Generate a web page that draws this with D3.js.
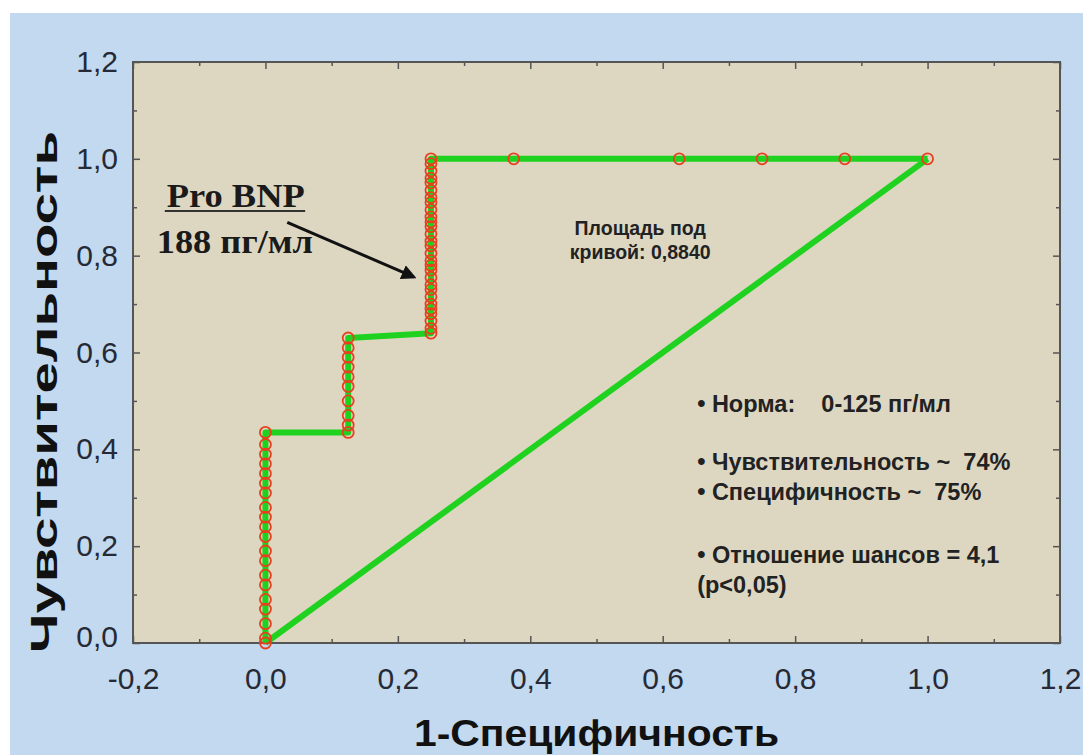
<!DOCTYPE html>
<html lang="ru">
<head>
<meta charset="UTF-8">
<title>ROC Pro BNP</title>
<style>
  body { margin: 0; background: #fff; }
  svg { display: block; font-family: "Liberation Sans", Arial, sans-serif; }
</style>
</head>
<body>
<svg width="1083" height="755"></svg>

<script src="https://cdn.jsdelivr.net/npm/d3@7"></script>
<script>

    // ROC-кривая Pro BNP: чувствительность по ступеням 1-специфичности
    var stepFpr = [0, 0.125, 0.25];
    var tprAtZero = [0, 0.01, 0.04, 0.07, 0.09, 0.12, 0.14, 0.17, 0.19, 0.22, 0.24, 0.26,
                     0.28, 0.31, 0.33, 0.35, 0.37, 0.39, 0.41, 0.435];
    var tprAtEighth = [0.435, 0.45, 0.47, 0.50, 0.53, 0.55, 0.57, 0.59, 0.61, 0.63];
    var tprAtQuarter = [0.64, 0.65, 0.665, 0.68, 0.69, 0.70, 0.715, 0.73, 0.74, 0.755, 0.77,
                        0.78, 0.79, 0.805, 0.82, 0.83, 0.845, 0.86, 0.87, 0.88, 0.895, 0.91,
                        0.92, 0.935, 0.95, 0.96, 0.975, 0.99, 1.0];
    var topFpr = [0.375, 0.625, 0.75, 0.875, 1.0];
    var chanceLine = [[0, 0], [1, 1]];

    var xTicks = [-0.2, 0, 0.2, 0.4, 0.6, 0.8, 1.0, 1.2];
    var xMinor = [-0.1, 0.1, 0.3, 0.5, 0.7, 0.9, 1.1];
    var yTicks = [0, 0.2, 0.4, 0.6, 0.8, 1.0, 1.2];
    var yMinor = [0.1, 0.3, 0.5, 0.7, 0.9, 1.1];

    var aucLines = ["Площадь под", "кривой: 0,8840"];
    var infoLines = [
        {text: "• Норма:    0-125 пг/мл", y: 0.477},
        {text: "• Чувствительность ~  74%", y: 0.357},
        {text: "• Специфичность ~  75%", y: 0.295},
        {text: "• Отношение шансов = 4,1", y: 0.165},
        {text: "(p<0,05)", y: 0.103}
    ];

    var svg = d3.select("svg");
    var margin = {top: 62, right: 23, bottom: 112, left: 133};
    var width = +svg.attr("width") - margin.left - margin.right;
    var height = +svg.attr("height") - margin.top - margin.bottom;

    // фон слайда
    svg.append("rect").attr("x", 10).attr("y", 13)
        .attr("width", 1073).attr("height", 742).attr("fill", "#c2d9ef");

    var g = svg.append("g").attr("transform", "translate(" + margin.left + "," + margin.top + ")");

    var x = d3.scaleLinear().domain([-0.2, 1.2]).range([0, width]);
    var y = d3.scaleLinear().domain([0, 1.2]).range([height, 0]);

    g.append("rect").attr("width", width).attr("height", height).attr("fill", "#ddd7c2");

    var fmt = function(d) { return d.toFixed(1).replace(".", ","); };

    // тики внутрь рамки
    function ticks(axis, tr) {
        var a = g.append("g").attr("transform", tr).call(axis);
        a.select(".domain").remove();
        a.selectAll("line").attr("stroke", "#555").attr("stroke-width", 1.5);
        return a;
    }
    var xb = ticks(d3.axisBottom(x).tickValues(xTicks).tickSize(-7).tickPadding(25).tickFormat(fmt), "translate(0," + height + ")");
    ticks(d3.axisBottom(x).tickValues(xMinor).tickSize(-4).tickFormat(""), "translate(0," + height + ")");
    ticks(d3.axisTop(x).tickValues(xTicks).tickSize(-7).tickFormat(""), "translate(0,0)");
    ticks(d3.axisTop(x).tickValues(xMinor).tickSize(-4).tickFormat(""), "translate(0,0)");
    var yl = ticks(d3.axisLeft(y).tickValues(yTicks).tickSize(-7).tickPadding(15).tickFormat(fmt), "translate(0,0)");
    ticks(d3.axisLeft(y).tickValues(yMinor).tickSize(-4).tickFormat(""), "translate(0,0)");
    ticks(d3.axisRight(y).tickValues(yTicks).tickSize(-7).tickFormat(""), "translate(" + width + ",0)");
    ticks(d3.axisRight(y).tickValues(yMinor).tickSize(-4).tickFormat(""), "translate(" + width + ",0)");

    [xb, yl].forEach(function(a) {
        a.selectAll("text").attr("font-size", 30).attr("fill", "#262a36")
            .attr("font-family", "'Liberation Sans', Arial, sans-serif");
    });
    yl.selectAll("text").filter(function(d) { return d === 0; }).attr("dy", "0.1em");

    g.append("rect").attr("width", width).attr("height", height)
        .attr("fill", "none").attr("stroke", "#555").attr("stroke-width", 2);

    // точки кривой
    var rocPoints = []
        .concat(tprAtZero.map(function(v) { return {x: stepFpr[0], y: v}; }))
        .concat(tprAtEighth.map(function(v) { return {x: stepFpr[1], y: v}; }))
        .concat(tprAtQuarter.map(function(v) { return {x: stepFpr[2], y: v}; }))
        .concat(topFpr.map(function(v) { return {x: v, y: 1}; }));

    var line = d3.line().x(function(d) { return x(d.x); }).y(function(d) { return y(d.y); });

    g.append("path").datum(chanceLine.map(function(d) { return {x: d[0], y: d[1]}; }))
        .attr("d", line).attr("fill", "none").attr("stroke", "#1fd21f").attr("stroke-width", 6);
    g.append("path").datum(rocPoints)
        .attr("d", line).attr("fill", "none").attr("stroke", "#1fd21f").attr("stroke-width", 6)
        .attr("stroke-linejoin", "round");

    g.selectAll(".pt").data(rocPoints).enter().append("circle")
        .attr("class", "pt")
        .attr("cx", function(d) { return x(d.x); })
        .attr("cy", function(d) { return y(d.y); })
        .attr("r", 5.5)
        .attr("fill", "none").attr("stroke", "#e8401f").attr("stroke-width", 1.8);

    // аннотации
    svg.append("defs").append("marker").attr("id", "arr")
        .attr("viewBox", "0 0 10 10").attr("refX", 8).attr("refY", 5)
        .attr("markerWidth", 5).attr("markerHeight", 5).attr("orient", "auto")
        .append("path").attr("d", "M0,0L10,5L0,10z").attr("fill", "#111");

    g.append("line")
        .attr("x1", x(0.033)).attr("y1", y(0.869))
        .attr("x2", x(0.224)).attr("y2", y(0.756))
        .attr("stroke", "#111").attr("stroke-width", 3).attr("marker-end", "url(#arr)");

    var serif = "'Liberation Serif', 'DejaVu Serif', serif";
    g.append("text").attr("x", x(-0.149)).attr("y", y(0.90))
        .attr("font-family", serif).attr("font-weight", "bold").attr("font-size", 33)
        .attr("fill", "#1a1a1a").attr("textLength", 138).attr("lengthAdjust", "spacingAndGlyphs")
        .text("Pro BNP");
    g.append("line")
        .attr("x1", x(-0.152)).attr("x2", x(0.060))
        .attr("y1", y(0.892)).attr("y2", y(0.892))
        .attr("stroke", "#333").attr("stroke-width", 2);
    g.append("text").attr("x", x(-0.164)).attr("y", y(0.806))
        .attr("font-family", serif).attr("font-weight", "bold").attr("font-size", 33)
        .attr("fill", "#1a1a1a").attr("textLength", 156).attr("lengthAdjust", "spacingAndGlyphs")
        .text("188 пг/мл");

    g.selectAll(".auc").data(aucLines).enter().append("text")
        .attr("x", x(0.566)).attr("y", function(d, i) { return y(0.843) + i * 24; })
        .attr("text-anchor", "middle").attr("font-weight", "bold").attr("font-size", 19.5)
        .attr("fill", "#222").text(function(d) { return d; });

    g.selectAll(".info").data(infoLines).enter().append("text")
        .attr("x", x(0.652)).attr("y", function(d) { return y(d.y); })
        .attr("font-weight", "bold").attr("font-size", 23.5).attr("fill", "#222")
        .attr("xml:space", "preserve").style("white-space", "pre")
        .text(function(d) { return d.text; });

    // подписи осей
    svg.append("text").attr("x", margin.left + x(0.5)).attr("y", 746)
        .attr("text-anchor", "middle").attr("font-weight", "bold").attr("font-size", 36)
        .attr("fill", "#111").attr("textLength", 365).attr("lengthAdjust", "spacingAndGlyphs")
        .text("1-Специфичность");
    svg.append("text").attr("transform", "translate(57,392) rotate(-90)")
        .attr("text-anchor", "middle").attr("font-weight", "bold").attr("font-size", 37)
        .attr("fill", "#111").attr("textLength", 522).attr("lengthAdjust", "spacingAndGlyphs")
        .text("Чувствительность");

</script>
</body>
</html>
